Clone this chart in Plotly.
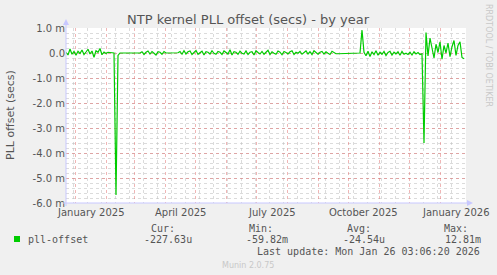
import plotly.graph_objects as go
import pandas as pd

# ---- data (values in milliseconds, one sample every 2 days) ----
start_date = "2024-12-22 03:06:20"
end_date = "2026-01-26 03:06:20"
offset_ms = [
    0.03, -0.08, 0.16, -0.05, 0.06, -0.09, 0.07, -0.02, 0.12, -0.06,
    0.04, 0.15, -0.04, 0.08, -0.17, 0.09, 0.03, 0.18, -0.07, 0.04,
    -0.02, 0.03, 0.02, 0.00, 0.00, -5.68, -0.10, 0.00, 0.00, 0.01,
    0.00, 0.00, 0.00, 0.00, 0.01, 0.00, 0.00, 0.00, 0.05, -0.06,
    0.03, 0.08, -0.04, 0.06, -0.01, -0.08, 0.05, 0.03, -0.05, 0.06,
    0.00, 0.00, 0.00, 0.00, 0.00, 0.00, 0.01, 0.06, -0.05, 0.09,
    -0.04, 0.05, 0.08, -0.06, 0.03, 0.10, -0.05, 0.02, 0.07, -0.08,
    0.05, 0.03, -0.04, 0.09, -0.01, -0.05, 0.06, 0.03, -0.06, 0.08,
    0.02, -0.04, 0.13, -0.08, 0.05, 0.03, -0.05, 0.07, -0.01, -0.04,
    0.08, -0.06, 0.03, 0.05, -0.08, 0.09, 0.02, -0.04, 0.06, -0.05,
    0.03, 0.11, -0.06, 0.05, -0.01, -0.05, 0.08, 0.03, -0.07, 0.06,
    0.02, -0.04, 0.05, 0.09, -0.06, 0.03, -0.01, 0.06, -0.05, 0.03,
    0.08, -0.04, 0.05, -0.06, 0.09, 0.02, -0.05, 0.03, 0.06, -0.04,
    0.05, -0.01, -0.06, 0.07, 0.03, -0.03, -0.03, -0.03, -0.03, -0.03,
    -0.03, -0.03, -0.03, -0.03, -0.03, -0.03, -0.03, 0.00, 0.92, 0.03,
    -0.11, 0.07, -0.14, 0.05, -0.06, 0.09, -0.09, 0.03, -0.05, 0.06,
    -0.10, 0.02, 0.07, -0.08, 0.03, -0.04, 0.05, -0.09, 0.06, -0.05,
    -0.01, -0.06, 0.03, -0.08, 0.05, -0.04, 0.02, -0.06, -0.03, -3.60,
    0.82, -0.12, 0.60, 0.12, -0.20, 0.35, 0.02, 0.45, -0.25, 0.30,
    0.00, 0.40, -0.15, 0.25, 0.50, -0.10, 0.30, 0.45, -0.18, -0.23,
]
dates = pd.date_range(start_date, periods=len(offset_ms), freq="2D")

y_ticks = [-6, -5, -4, -3, -2, -1, 0, 1]
y_ticktext = ["-6.0 m", "-5.0 m", "-4.0 m", "-3.0 m", "-2.0 m", "-1.0 m", "0.0", "1.0 m"]
x_label_dates = ["2025-01-16", "2025-04-16", "2025-07-16", "2025-10-16", "2026-01-16"]
x_label_text = ["January 2025", "April 2025", "July 2025", "October 2025", "January 2026"]

legend_name = "pll-offset"
stats_head = ["Cur:", "Min:", "Avg:", "Max:"]
stats_vals = ["-227.63u", "-59.82m", "-24.54u", "12.81m"]

# ---- layout geometry (pixels) ----
W, H = 497, 275
L, R, T, B = 66, 466, 28, 203


def px(x):
    return (x - L) / (R - L)


def py(y):
    return (B - y) / (B - T)


TXT = "#555555"
AXC = "#C8C8FF"
MONO = "DejaVu Sans Mono"
SANS = "DejaVu Sans"
MAJ = "rgba(225,110,110,0.5)"
MIN = "rgba(190,190,190,0.55)"

fig = go.Figure()
fig.add_trace(go.Scatter(
    x=dates, y=offset_ms, mode="lines",
    line=dict(color="#00CC00", width=1.2), hoverinfo="skip", showlegend=False,
))

fig.update_layout(
    width=W, height=H,
    margin=dict(l=L, r=W - R, t=T, b=H - B),
    paper_bgcolor="#F0F0F0", plot_bgcolor="#FFFFFF",
    showlegend=False,
    xaxis=dict(
        type="date", range=[start_date, end_date],
        showticklabels=False, ticks="", zeroline=False, showline=False,
        showgrid=True, gridcolor=MAJ, griddash="dot", gridwidth=1,
        dtick="M1", tick0="2025-01-01",
        minor=dict(showgrid=True, gridcolor=MIN, griddash="dot",
                   dtick=14 * 86400000, tick0="2024-12-30"),
    ),
    yaxis=dict(
        range=[-6, 1], tickvals=y_ticks, ticktext=y_ticktext,
        tickfont=dict(family=SANS, size=10, color=TXT), ticks="", ticklen=0,
        zeroline=False, showline=False,
        showgrid=True, gridcolor=MAJ, griddash="dot", gridwidth=1,
        minor=dict(showgrid=True, gridcolor=MIN, griddash="dot", dtick=0.2),
    ),
)

shapes = []
# axis lines
shapes.append(dict(type="line", xref="paper", yref="paper", x0=px(L), x1=px(L),
                   y0=py(B + 3), y1=py(22), line=dict(color=AXC, width=1)))
shapes.append(dict(type="line", xref="paper", yref="paper", x0=px(L - 3), x1=px(469),
                   y0=py(B), y1=py(B), line=dict(color=AXC, width=1)))
# arrows
shapes.append(dict(type="path", xref="paper", yref="paper",
                   path=f"M {px(L-3)} {py(25)} L {px(L+3)} {py(25)} L {px(L)} {py(19)} Z",
                   fillcolor=AXC, line=dict(color=AXC, width=0)))
shapes.append(dict(type="path", xref="paper", yref="paper",
                   path=f"M {px(467)} {py(B-3)} L {px(467)} {py(B+3)} L {px(473)} {py(B)} Z",
                   fillcolor=AXC, line=dict(color=AXC, width=0)))
# legend swatch
shapes.append(dict(type="rect", xref="paper", yref="paper",
                   x0=px(14), x1=px(20), y0=py(242), y1=py(236),
                   fillcolor="#00CC00", line=dict(width=0)))
fig.update_layout(shapes=shapes)

ann = []
ann.append(dict(text="NTP kernel PLL offset (secs) - by year", xref="paper", yref="paper",
                x=px(248), y=py(19), xanchor="center", yanchor="middle", showarrow=False,
                font=dict(family=SANS, size=13, color=TXT)))
ann.append(dict(text="PLL offset (secs)", xref="paper", yref="paper",
                x=px(10), y=py(115), xanchor="center", yanchor="middle", showarrow=False,
                textangle=-90, font=dict(family=SANS, size=11, color=TXT)))
for d, t in zip(x_label_dates, x_label_text):
    ann.append(dict(text=t, xref="x", yref="paper", x=d, y=py(212),
                    xanchor="center", yanchor="middle", showarrow=False,
                    font=dict(family=SANS, size=10, color=TXT)))
ann.append(dict(text="RRDTOOL / TOBI OETIKER", xref="paper", yref="paper",
                x=px(488), y=py(55), xanchor="center", yanchor="middle", showarrow=False,
                textangle=90, font=dict(family=SANS, size=8, color="#C8C8C8")))
ann.append(dict(text=legend_name, xref="paper", yref="paper", x=px(26), y=py(239),
                xanchor="left", yanchor="middle", showarrow=False,
                font=dict(family=MONO, size=10, color=TXT)))
head_right = [177, 275, 373, 470]
val_right = [194, 290, 387, 483]
for h, hr, v, vr in zip(stats_head, head_right, stats_vals, val_right):
    ann.append(dict(text=h, xref="paper", yref="paper", x=px(hr), y=py(228),
                    xanchor="right", yanchor="middle", showarrow=False,
                    font=dict(family=MONO, size=10, color=TXT)))
    ann.append(dict(text=v, xref="paper", yref="paper", x=px(vr), y=py(239),
                    xanchor="right", yanchor="middle", showarrow=False,
                    font=dict(family=MONO, size=10, color=TXT)))
ann.append(dict(text="Last update: Mon Jan 26 03:06:20 2026", xref="paper", yref="paper",
                x=px(482), y=py(251), xanchor="right", yanchor="middle", showarrow=False,
                font=dict(family=MONO, size=10, color=TXT)))
ann.append(dict(text="Munin 2.0.75", xref="paper", yref="paper",
                x=px(248), y=py(265), xanchor="center", yanchor="middle", showarrow=False,
                font=dict(family=SANS, size=8, color="#C8C8C8")))
fig.update_layout(annotations=ann)

fig.write_html("out.html")
